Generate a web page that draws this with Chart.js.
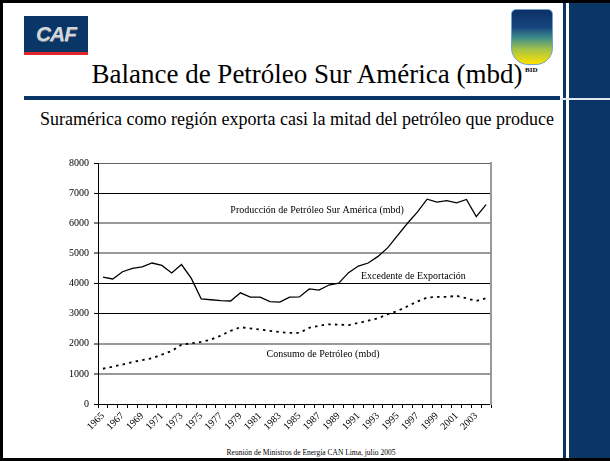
<!DOCTYPE html>
<html>
<head>
<meta charset="utf-8">
<script src="https://cdn.jsdelivr.net/npm/chart.js@4.4.1/dist/chart.umd.min.js"></script>
<style>
  html, body { margin: 0; padding: 0; }
  body {
    width: 610px; height: 461px; position: relative; overflow: hidden;
    background: #fff; font-family: 'Liberation Serif', 'Times New Roman', 'DejaVu Serif', serif; color: #000;
  }
  .frame {
    position: absolute; left: 0; top: 0; width: 610px; height: 461px; box-sizing: border-box;
    border-top: 3px solid #000; border-left: 3px solid #000; border-bottom: 3px solid #000;
  }
  .band { position: absolute; left: 569px; top: 3px; width: 41px; height: 455px; background: #0a3667; }
  .band-line { position: absolute; left: 563px; top: 3px; width: 3px; height: 455px; background: #0a3667; }
  .band-gap { position: absolute; left: 560px; top: 98px; width: 50px; height: 2px; background: #e4e9f0; }
  .rule { position: absolute; left: 24px; top: 96px; width: 536px; height: 4px; background: #0a3667; }
  .caf {
    position: absolute; left: 24px; top: 16px; width: 64px; height: 36px; background: #0a3667;
    border-bottom: 3px solid #e3262b; font: bold italic 21px 'Liberation Sans', Arial, sans-serif;
    color: #d3d7dc; text-align: center; line-height: 36px; letter-spacing: -1px;
    text-shadow: 0 1px 0 #7d8793;
  }
  .bid {
    position: absolute; left: 511px; top: 9px; width: 40px; height: 54px;
    border: 1px solid #6fa3d0; border-radius: 5px 5px 17px 17px;
    background: linear-gradient(180deg, #0c2f66 0%, #17457e 32%, #3f8f8a 52%, #9fc14a 72%, #ffe200 100%);
  }
  .bid-text { position: absolute; left: 525px; top: 66px; font: bold 7px 'Liberation Serif', serif; }
  .title {
    position: absolute; left: 0; top: 61px; width: 614px; text-align: center;
    font-size: 27px; line-height: 27px; white-space: nowrap;
  }
  .subtitle {
    position: absolute; left: 0; top: 110px; width: 594px; text-align: center;
    font-size: 18px; line-height: 18px; white-space: nowrap;
  }
  .footer {
    position: absolute; left: 0; top: 449px; width: 622px; text-align: center;
    font-size: 7.5px; line-height: 8px; white-space: nowrap;
  }
  #wrap { position: absolute; left: 58px; top: 152px; width: 440px; height: 286px; }
</style>
</head>
<body>
<div class="frame"></div>
<div class="band-line"></div>
<div class="band"></div>
<div class="band-gap"></div>
<div class="caf">CAF</div>
<div class="bid"></div>
<div class="title">Balance de Petróleo Sur América (mbd)</div>
<div class="bid-text">BID</div>
<div class="rule"></div>
<div class="subtitle">Suramérica como región exporta casi la mitad del petróleo que produce</div>
<div id="wrap"><canvas id="balanceChart"></canvas></div>
<div class="footer">Reunión de Ministros de Energía CAN Lima, julio 2005</div>

<script>
// ─── Balance de Petróleo Sur América ───

const years = [
    '1965', '1966', '1967', '1968', '1969', '1970', '1971', '1972', '1973', '1974',
    '1975', '1976', '1977', '1978', '1979', '1980', '1981', '1982', '1983', '1984',
    '1985', '1986', '1987', '1988', '1989', '1990', '1991', '1992', '1993', '1994',
    '1995', '1996', '1997', '1998', '1999', '2000', '2001', '2002', '2003', '2004'
];

// Producción de petróleo (mbd)
const produccion = [
    4210, 4150, 4390, 4500, 4550, 4680, 4600, 4350, 4630, 4170,
    3490, 3460, 3430, 3420, 3690, 3550, 3550, 3400, 3380, 3550,
    3555, 3820, 3780, 3950, 4010, 4360, 4580, 4680, 4900, 5190,
    5600, 6000, 6370, 6800, 6700, 6750, 6680, 6790, 6220, 6620
];

// Consumo de petróleo (mbd)
const consumo = [
    1170, 1240, 1310, 1390, 1455, 1520, 1640, 1760, 1970, 2015,
    2060, 2140, 2270, 2430, 2550, 2510, 2470, 2430, 2390, 2360,
    2360, 2530, 2600, 2645, 2635, 2620, 2690, 2765, 2845, 2980,
    3090, 3245, 3400, 3535, 3555, 3555, 3590, 3510, 3420, 3510
];

const yTicks = [0, 1000, 2000, 3000, 4000, 5000, 6000, 7000, 8000];

// Text labels inside the plot (category index, value)
const notes = [
    { text: 'Producción de Petróleo Sur América (mbd)', at: 21.8, value: 6330 },
    { text: 'Excedente de Exportación', at: 31.6, value: 4165 },
    { text: 'Consumo de Petróleo (mbd)', at: 22.4, value: 1555 }
];

const FONT = { family: "'Liberation Serif', 'Times New Roman', serif", size: 10 };
const DARK_LINES = [0, 3000, 4000, 7000];

const notesPlugin = {
    id: 'notes',
    afterDatasetsDraw(chart) {
        const { ctx, scales } = chart;
        ctx.save();
        ctx.font = `${FONT.size}px ${FONT.family}`;
        ctx.fillStyle = '#000';
        ctx.textAlign = 'center';
        ctx.textBaseline = 'alphabetic';
        notes.forEach(n => {
            ctx.fillText(n.text, scales.x.getPixelForValue(n.at), scales.y.getPixelForValue(n.value));
        });
        ctx.restore();
    }
};

function initBalanceChart() {
    const ctx = document.getElementById('balanceChart');
    if (!ctx) return;

    new Chart(ctx, {
        type: 'line',
        data: {
            labels: years,
            datasets: [
                {
                    label: 'Producción',
                    data: produccion,
                    borderColor: '#000',
                    borderWidth: 1.3,
                    pointRadius: 0,
                    tension: 0,
                    fill: false
                },
                {
                    label: 'Consumo',
                    data: consumo,
                    borderColor: '#000',
                    borderWidth: 1.8,
                    borderDash: [2.5, 4.2],
                    pointRadius: 0,
                    tension: 0,
                    fill: false
                }
            ]
        },
        options: {
            responsive: true,
            maintainAspectRatio: false,
            animation: false,
            layout: { padding: { right: 6 } },
            plugins: {
                legend: { display: false },
                tooltip: { enabled: false }
            },
            scales: {
                x: {
                    offset: true,
                    grid: {
                        offset: true,
                        drawOnChartArea: false,
                        drawTicks: true,
                        tickLength: 4,
                        tickColor: '#000',
                        tickWidth: 1
                    },
                    border: { color: '#000', width: 1 },
                    ticks: {
                        autoSkip: false,
                        minRotation: 45,
                        maxRotation: 45,
                        padding: 2,
                        color: '#000',
                        font: FONT,
                        callback: (v, i) => (i % 2 === 0 ? years[i] : '')
                    },
                    afterFit: scale => { scale.height = 34; }
                },
                y: {
                    min: 0,
                    max: 8000,
                    afterBuildTicks: scale => { scale.ticks = yTicks.map(v => ({ value: v })); },
                    grid: {
                        color: c => DARK_LINES.includes(c.tick?.value) ? '#000' : (c.tick?.value === 8000 ? '#666' : '#999'),
                        lineWidth: c => DARK_LINES.includes(c.tick?.value) || c.tick?.value === 8000 ? 1 : 2,
                        tickLength: 4,
                        tickColor: '#000',
                        tickWidth: 1
                    },
                    border: { color: '#000', width: 1 },
                    ticks: {
                        padding: 5,
                        color: '#000',
                        font: FONT,
                        callback: v => String(v)
                    },
                    afterFit: scale => { scale.width = 40; }
                },
                yRight: {
                    position: 'right',
                    min: 0,
                    max: 8000,
                    grid: { drawOnChartArea: false, drawTicks: false },
                    border: { color: '#999', width: 2 },
                    ticks: { display: false },
                    afterFit: scale => { scale.width = 1; }
                }
            }
        },
        plugins: [notesPlugin]
    });
}

document.addEventListener('DOMContentLoaded', initBalanceChart);
</script>
</body>
</html>
